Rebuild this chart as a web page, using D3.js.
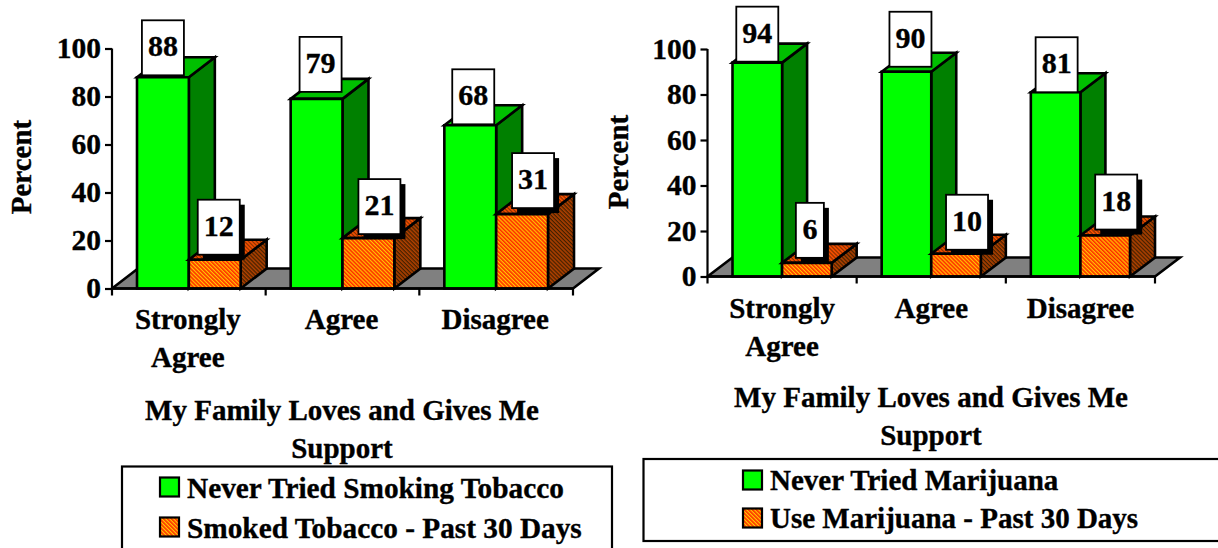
<!DOCTYPE html>
<html><head><meta charset="utf-8">
<script src="https://cdn.jsdelivr.net/npm/d3@7"></script>
<style>
html,body{margin:0;padding:0;background:#fff;overflow:hidden}
text{font-family:"Liberation Serif",serif;font-weight:bold;fill:#000;stroke:#000;stroke-width:0.35px}
</style></head><body>
<svg id="c" width="1218" height="548"></svg>
<script>
const categories=["Strongly Agree","Agree","Disagree"];
const categoryLines=[["Strongly","Agree"],["Agree"],["Disagree"]];
const yTicks=[0,20,40,60,80,100];
const titleLines=["My Family Loves and Gives Me","Support"];
const leftGreen=[88,79,68];
const leftOrange=[12,21,31];
const rightGreen=[94,90,81];
const rightOrange=[6,10,18];
const leftLegend=["Never Tried Smoking Tobacco","Smoked Tobacco - Past 30 Days"];
const rightLegend=["Never Tried Marijuana","Use Marijuana - Past 30 Days"];

const svg=d3.select("#c");
const defs=svg.append("defs");
function hatch(id,a,b){
  const p=defs.append("pattern").attr("id",id).attr("width",2.8).attr("height",2.8)
    .attr("patternUnits","userSpaceOnUse").attr("patternTransform","rotate(45)");
  p.append("rect").attr("width",2.8).attr("height",2.8).attr("fill",a);
  p.append("rect").attr("width",2.8).attr("height",1.2).attr("fill",b);
}
hatch("hFront","#ff2c00","#ffc800");
hatch("hTop","#ff5000","#803000");
hatch("hSide","#b04000","#402000");

function poly(g,pts,fill,sw=2.6){
  g.append("path").attr("d",d3.line()(pts)+"Z").attr("fill",fill)
   .attr("stroke","#000").attr("stroke-width",sw).attr("stroke-linejoin","miter");
}
function bar3d(g,x0,x1,yt,yb,dx,dy,f,t,s){
  poly(g,[[x1,yb],[x1+dx,yb+dy],[x1+dx,yt+dy],[x1,yt]],s);
  poly(g,[[x0,yt],[x0+dx,yt+dy],[x1+dx,yt+dy],[x1,yt]],t);
  poly(g,[[x0,yb],[x1,yb],[x1,yt],[x0,yt]],f);
}
function label(g,v,cx,bottom,w,shadow){
  const h=55,x=cx-w/2,y=bottom-h;
  if(shadow) g.append("rect").attr("x",x+5).attr("y",y+5).attr("width",w).attr("height",h).attr("fill","#000");
  g.append("rect").attr("x",x).attr("y",y).attr("width",w).attr("height",h).attr("fill","#fff").attr("stroke","#000").attr("stroke-width",1.8);
  g.append("text").attr("x",cx).attr("y",y+36).attr("text-anchor","middle").attr("font-size",30).text(v);
}
function panel(o){
  const g=svg.append("g");
  const y=d3.scaleLinear().domain([0,100]).range([o.y0,o.y100]);
  const x=d3.scaleBand().domain(categories).range([o.x0,o.x1]);
  const inner=d3.scaleBand().domain([0,1]).range([o.pad,x.bandwidth()-o.pad]);
  const dx=o.dx,dy=o.dy;
  poly(g,[[o.x0,o.y0],[o.x0+dx,o.y0+dy],[o.x1+dx,o.y0+dy],[o.x1,o.y0]],"#808080");
  categories.forEach((c,i)=>{
    const gx0=x(c)+inner(0),gx1=gx0+inner.bandwidth();
    const ox0=gx1,ox1=ox0+inner.bandwidth();
    bar3d(g,gx0,gx1,y(o.green[i]),o.y0,dx,dy,"#00ff00","#00c000","#008000");
    bar3d(g,ox0,ox1,y(o.orange[i]),o.y0,dx,dy,"url(#hFront)","url(#hTop)","url(#hSide)");
  });
  const ax=g.append("g").attr("transform",`translate(${o.x0},0)`)
    .call(d3.axisLeft(y).tickValues(yTicks).tickSize(7).tickPadding(4));
  ax.selectAll("path,line").attr("stroke","#000").attr("stroke-width",2.2);
  ax.select("path").attr("d",`M0,${o.y100}V${o.y0}`);
  ax.selectAll("text").attr("font-size",29.5).attr("font-family","Liberation Serif").attr("font-weight","bold").attr("fill","#000");
  const ticks=[o.x0,...categories.map(c=>x(c)+x.bandwidth())];
  g.selectAll(null).data(ticks).enter().append("line")
    .attr("x1",d=>d).attr("x2",d=>d).attr("y1",o.y0).attr("y2",o.y0+7)
    .attr("stroke","#000").attr("stroke-width",2.2);
  g.append("line").attr("x1",o.x0).attr("x2",o.x1).attr("y1",o.y0).attr("y2",o.y0).attr("stroke","#000").attr("stroke-width",2.6);
  categories.forEach((c,i)=>{
    const gx0=x(c)+inner(0);
    const n=o.nudge[i];
    label(g,o.green[i],gx0+inner.bandwidth()/2+n[0],y(o.green[i])+n[1],42,false);
    label(g,o.orange[i],gx0+inner.bandwidth()*1.5+n[2],y(o.orange[i])+n[3],n[4]||42,true);
  });
  categories.forEach((c,i)=>{
    const cx=x(c)+x.bandwidth()/2+o.catShift;
    categoryLines[i].forEach((t,j)=>g.append("text").attr("x",cx).attr("y",o.catY+j*38)
      .attr("text-anchor","middle").attr("font-size",o.catSize).text(t));
  });
  g.append("text").attr("transform",`translate(${o.yTitleX},${o.yTitleY}) rotate(-90)`)
    .attr("text-anchor","middle").attr("font-size",o.yTitleSize).text("Percent");
  titleLines.forEach((t,j)=>g.append("text").attr("x",o.titleX).attr("y",o.titleY+j*38)
    .attr("text-anchor","middle").attr("font-size",o.titleSize).text(t));
  g.append("rect").attr("x",o.lx).attr("y",o.ly).attr("width",o.lw).attr("height",o.lh)
    .attr("fill","none").attr("stroke","#000").attr("stroke-width",2.2);
  o.legend.forEach((t,j)=>{
    const sy=o.swY+j*o.legStep;
    g.append("rect").attr("x",o.swX).attr("y",sy).attr("width",19).attr("height",19)
      .attr("fill",j?"url(#hFront)":"#00ff00").attr("stroke","#000").attr("stroke-width",2.2);
    g.append("text").attr("x",o.swX+27).attr("y",sy+o.legDy).attr("font-size",o.legSize).text(t);
  });
}
panel({x0:112,x1:573,y0:288.5,y100:48.5,pad:25,dx:26,dy:-20,green:leftGreen,orange:leftOrange,
  nudge:[[0,-2,4,-5],[4,-7,11,-4],[3,-1,11,-6]],catShift:-1,catY:329,catSize:29,
  yTitleX:31,yTitleY:167,yTitleSize:29,titleX:342,titleY:420,titleSize:29,
  lx:122,ly:466.5,lw:490,lh:90,legend:leftLegend,swX:160,swY:477.5,legStep:40,legSize:29.3,legDy:20});
panel({x0:707.5,x1:1155,y0:276.5,y100:49,pad:25,dx:25,dy:-19,green:rightGreen,orange:rightOrange,
  nudge:[[0,-1,3,-5,28],[4,-5,11,-4],[1,0,11,-6]],catShift:0,catY:318,catSize:29,
  yTitleX:628,yTitleY:162,yTitleSize:29,titleX:931,titleY:407,titleSize:29,
  lx:643.5,ly:459,lw:590,lh:82,legend:rightLegend,swX:743,swY:470.5,legStep:38,legSize:29,legDy:19});
</script></body></html>
